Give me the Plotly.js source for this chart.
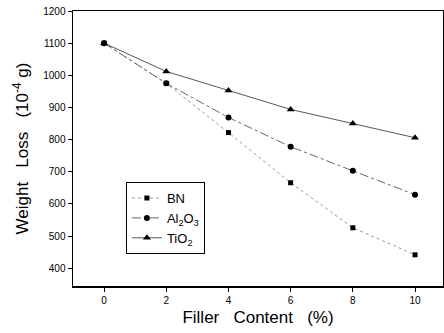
<!DOCTYPE html>
<html><head><meta charset="utf-8">
<script src="https://cdn.plot.ly/plotly-3.0.1.min.js"></script>
<style>html,body{margin:0;padding:0;background:#fff;}#c{width:444px;height:333px;}</style>
</head><body><div id="c"></div>
<script>
var filler = [0, 2, 4, 6, 8, 10];
var bn = [1100, 975, 822, 666, 526, 442];
var al2o3 = [1100, 975, 869, 778, 703, 629];
var tio2 = [1100, 1012, 953, 894, 850, 806];
var xTicks = [0, 2, 4, 6, 8, 10];
var yTicks = [400, 500, 600, 700, 800, 900, 1000, 1100, 1200];

var traces = [
  {x: filler, y: bn, name: 'BN', mode: 'lines+markers',
   line: {color: '#999', width: 1, dash: 'dot'},
   marker: {symbol: 'square', size: 5, color: '#000'}},
  {x: filler, y: al2o3, name: 'Al<sub>2</sub>O<sub>3</sub>', mode: 'lines+markers',
   line: {color: '#666', width: 1, dash: 'dashdot'},
   marker: {symbol: 'circle', size: 6, color: '#000'}},
  {x: filler, y: tio2, name: 'TiO<sub>2</sub>', mode: 'lines+markers',
   line: {color: '#444', width: 0.9},
   marker: {symbol: 'triangle-up', size: 7, color: '#000'}}
];

var layout = {
  width: 444, height: 333,
  margin: {l: 73, r: 1, t: 11, b: 47},
  paper_bgcolor: '#fff', plot_bgcolor: '#fff',
  font: {family: 'Liberation Sans, Arial, sans-serif', color: '#000'},
  showlegend: true,
  legend: {x: 0.143, y: 0.378, xanchor: 'left', yanchor: 'top',
    bordercolor: '#000', borderwidth: 1, bgcolor: '#fff',
    font: {size: 13, family: 'Liberation Sans, Arial, sans-serif'},
    tracegroupgap: 0, itemwidth: 30},
  xaxis: {range: [-1, 10.9], tickvals: xTicks, ticktext: xTicks.map(String),
    showgrid: false, zeroline: false, showline: true, linecolor: '#000', linewidth: 1.5,
    mirror: true, ticks: 'outside', ticklen: 4, tickcolor: '#000',
    tickfont: {size: 10},
    title: {text: 'Filler\u00a0\u00a0\u00a0Content\u00a0\u00a0\u00a0(%)', font: {size: 17}, standoff: 6}},
  yaxis: {range: [345, 1200], tickvals: yTicks, ticktext: yTicks.map(String),
    showgrid: false, zeroline: false, showline: true, linecolor: '#000', linewidth: 1.5,
    mirror: true, ticks: 'outside', ticklen: 4, tickcolor: '#000',
    tickfont: {size: 10},
    title: {text: 'Weight\u00a0\u00a0\u00a0Loss\u00a0\u00a0\u00a0(10<sup>-4</sup>\u00a0g)', font: {size: 17}, standoff: 10}}
};

Plotly.newPlot('c', traces, layout, {displayModeBar: false, staticPlot: true});
</script>
</body></html>
